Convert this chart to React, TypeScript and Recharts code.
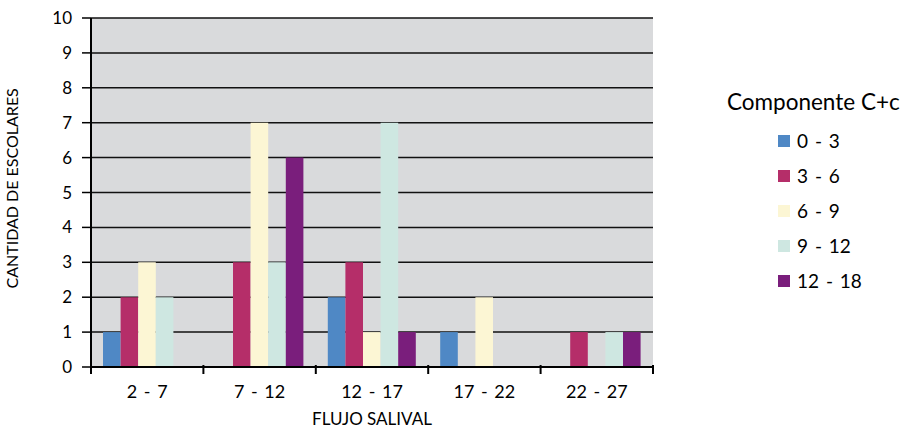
import React from 'react';
import { BarChart, Bar, XAxis, YAxis, CartesianGrid } from 'recharts';

// Flujo salival ranges (x categories)
const categories = ['2 - 7', '7 - 12', '12 - 17', '17 - 22', '22 - 27'];

// Componente C+c groups, counts per category
const seriesNames = ['0 - 3', '3 - 6', '6 - 9', '9 - 12', '12 - 18'];
const s0to3 = [1, 0, 2, 1, 0];
const s3to6 = [2, 3, 3, 0, 1];
const s6to9 = [3, 7, 1, 2, 0];
const s9to12 = [2, 3, 7, 0, 1];
const s12to18 = [0, 6, 1, 0, 1];
const yTicks = [0, 1, 2, 3, 4, 5, 6, 7, 8, 9, 10];

const colors = ['#4f88c5', '#b52e69', '#fcf6d4', '#cee7e1', '#7a1e7c'];
const allSeries = [s0to3, s3to6, s6to9, s9to12, s12to18];

const data = categories.map((c, i) => {
  const row: any = { name: c };
  seriesNames.forEach((s, k) => {
    row[s] = allSeries[k][i];
  });
  return row;
});

const FONT = 'Lato, "Open Sans", sans-serif';

const XTick = (props: any) => {
  const { x, y, payload, index, visibleTicksCount } = props;
  const half = payload?.offset ?? 56;
  const axisY = y - 10;
  return (
    <g>
      <line x1={x - half} x2={x - half} y1={axisY} y2={axisY + 9} stroke="#000" strokeWidth={2} />
      {index === (visibleTicksCount ?? categories.length) - 1 && (
        <line x1={x + half} x2={x + half} y1={axisY} y2={axisY + 9} stroke="#000" strokeWidth={2} />
      )}
      <text x={x} y={axisY + 33} textAnchor="middle" fontSize={18} fill="#000" fontFamily={FONT} style={{ wordSpacing: 2 }}>
        {payload.value}
      </text>
    </g>
  );
};

const LegendBox = () => (
  <div style={{ position: 'absolute', left: 727, top: 89, fontFamily: FONT, color: '#000' }}>
    <div style={{ fontSize: 22.5, lineHeight: '26px', whiteSpace: 'nowrap' }}>Componente C+c</div>
    <div style={{ marginLeft: 51, marginTop: 8 }}>
      {seriesNames.map((s, i) => (
        <div key={s} style={{ display: 'flex', alignItems: 'center', height: 35, fontSize: 19, wordSpacing: 2 }}>
          <span style={{ width: 12, height: 12, background: colors[i], display: 'inline-block', marginRight: 7 }} />
          {s}
        </div>
      ))}
    </div>
  </div>
);

export default function App() {
  return (
    <div style={{ position: 'absolute', left: 0, top: 0, width: 904, height: 429, background: '#fff' }}>
      <BarChart
        width={904}
        height={429}
        data={data}
        margin={{ top: 18, right: 251, left: 0, bottom: 0 }}
        barGap={0}
        barSize={17.6}
      >
        <CartesianGrid vertical={false} horizontal stroke="#111" strokeWidth={1.5} fill="#d9dadc" fillOpacity={1} />
        <XAxis
          dataKey="name"
          height={62}
          axisLine={{ stroke: '#000', strokeWidth: 2 }}
          tickLine={false}
          tick={<XTick />}
          interval={0}
          label={{ value: 'FLUJO SALIVAL', position: 'insideBottom', offset: 4, fontSize: 17, fill: '#000', fontFamily: FONT }}
        />
        <YAxis
          width={91}
          domain={[0, 10]}
          ticks={yTicks}
          interval={0}
          tickSize={9}
          tickMargin={10}
          axisLine={{ stroke: '#000', strokeWidth: 2 }}
          tickLine={{ stroke: '#000', strokeWidth: 1.5 }}
          tick={{ fontSize: 17, fill: '#000', fontFamily: FONT }}
          label={{ value: 'CANTIDAD DE ESCOLARES', angle: -90, position: 'insideLeft', offset: 12, dy: 96, fontSize: 16, fill: '#000', fontFamily: FONT }}
        />
        <YAxis
          yAxisId="right"
          orientation="right"
          width={0}
          tick={false}
          tickLine={false}
          axisLine={{ stroke: '#555', strokeWidth: 1.5 }}
        />
        {seriesNames.map((s, i) => (
          <Bar key={s} dataKey={s} fill={colors[i]} isAnimationActive={false} />
        ))}
      </BarChart>
      <LegendBox />
    </div>
  );
}
